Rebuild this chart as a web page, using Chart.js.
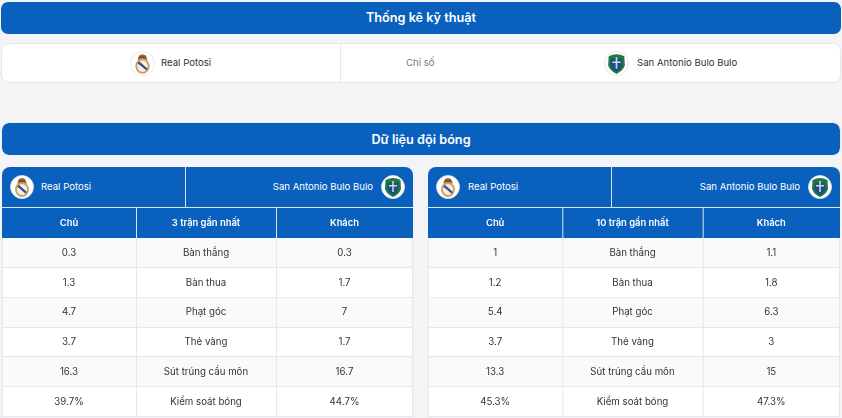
<!DOCTYPE html>
<html lang="vi">
<head>
<meta charset="utf-8">
<title>Thống kê kỹ thuật</title>
<script src="https://cdn.jsdelivr.net/npm/chart.js@4/dist/chart.umd.min.js"></script>
<style>
  html, body { margin: 0; padding: 0; }
  body { width: 842px; height: 418px; background: #f4f4f7; overflow: hidden; position: relative;
         font-family: Inter, "Noto Sans", sans-serif; color: #333; }
  .abs { position: absolute; white-space: nowrap; }
  .title { position: absolute; background: #0a60bd; color: #fff; font-size: 12.7px; font-weight: 600;
           text-align: center; box-sizing: border-box; }
  .bar { position: absolute; left: 1px; top: 43px; width: 840px; height: 40px; box-sizing: border-box;
         background: #fff; border: 1px solid #e5e7eb; border-radius: 8px; }
  .team { font-size: 9.6px; line-height: 14px; }
  .tablehead { position: absolute; top: 167px; width: 411px; height: 41px; box-sizing: border-box;
               background: #0a60bd; border-radius: 8px 8px 0 0; border-bottom: 1px solid #dbe6f3; color: #fff; }
  .tablehead .split { position: absolute; top: 0; bottom: 0; width: 1px; background: #dbe6f3; }
  .logo { position: absolute; }
  canvas { position: absolute; display: block; }
</style>
</head>
<body>
<svg width="0" height="0" style="position:absolute">
  <defs>
    <symbol id="crestReal" viewBox="0 0 24 24">
      <circle cx="12" cy="12" r="11.5" fill="#fff" stroke="#e3e3e6" stroke-width=".8"/>
      <path d="M7.5 9 Q7.500 3 12 3 Q16.500 3 16.500 9 Z" fill="#9a6f3c"/>
      <rect x="9" y="5" width="6" height="2.200" fill="#8f3f35"/>
      <ellipse cx="12" cy="14.500" rx="6" ry="6.500" fill="#f3eee0" stroke="#c6a45f" stroke-width="1.900"/>
      <path d="M7 11.500 L9 10 L17 17 L15.500 18.500 Z" fill="#3d4a9a"/>
    </symbol>
    <symbol id="crestSan" viewBox="0 0 24 24">
      <circle cx="12" cy="12" r="11.500" fill="#fff" stroke="#e3e3e6" stroke-width=".8"/>
      <path d="M4.500 5 Q12 1 19.500 5 L20 14 Q18 19.500 12 22 Q6 19.500 4 14 Z" fill="#1f7a3f"/>
      <path d="M6.500 7.500 H17.500 V14 Q16 18.500 12 20 Q8 18.500 6.500 14 Z" fill="#1d4f86"/>
      <path d="M11.200 6 H12.800 V17 H11.200 Z M8 10 H16 V11.500 H8 Z" fill="#cfd8cf"/>
    </symbol>
  </defs>
</svg>

<div class="title" style="left:1px;top:2px;width:840px;height:32px;line-height:32px;border-radius:7px">Thống kê kỹ thuật</div>

<div class="bar"></div>
<div class="abs" style="left:340px;top:44px;width:1px;height:38px;background:#e5e7eb"></div>
<svg class="logo" style="left:130px;top:51px" width="25" height="25"><use href="#crestReal"/></svg>
<div class="abs team" style="left:161px;top:56px">Real Potosi</div>
<div class="abs team" style="left:406px;top:56px;color:#777">Chỉ số</div>
<svg class="logo" style="left:604px;top:51px" width="25" height="25"><use href="#crestSan"/></svg>
<div class="abs team" style="left:637px;top:56px">San Antonio Bulo Bulo</div>

<div class="title" style="left:2px;top:123px;width:838px;height:32px;line-height:34px;border-radius:7px;outline:1px solid #e3edf8">Dữ liệu đội bóng</div>

<div class="tablehead" style="left:2px">
  <div class="split" style="left:183px"></div>
  <svg class="logo" style="left:8px;top:8px" width="24" height="24"><use href="#crestReal"/></svg>
  <div class="abs team" style="left:39px;top:13px">Real Potosi</div>
  <div class="abs team" style="right:40px;top:13px">San Antonio Bulo Bulo</div>
  <svg class="logo" style="right:8px;top:8px" width="24" height="24"><use href="#crestSan"/></svg>
</div>
<canvas id="recent3" width="411" height="209" style="left:2px;top:208px"></canvas>

<div class="tablehead" style="left:428px;width:412px">
  <div class="split" style="left:183px"></div>
  <svg class="logo" style="left:8px;top:8px" width="24" height="24"><use href="#crestReal"/></svg>
  <div class="abs team" style="left:40px;top:13px">Real Potosi</div>
  <div class="abs team" style="right:40px;top:13px">San Antonio Bulo Bulo</div>
  <svg class="logo" style="right:8px;top:8px" width="24" height="24"><use href="#crestSan"/></svg>
</div>
<canvas id="recent10" width="412" height="209" style="left:428px;top:208px"></canvas>

<script>
const metrics = ['Bàn thắng', 'Bàn thua', 'Phạt góc', 'Thẻ vàng', 'Sút trúng cầu môn', 'Kiểm soát bóng'];
const metricUnits = ['', '', '', '', '', '%'];

const home3 = [0.3, 1.3, 4.7, 3.7, 16.3, 39.7];
const away3 = [0.3, 1.7, 7, 1.7, 16.7, 44.7];
const home10 = [1, 1.2, 5.4, 3.7, 13.3, 45.3];
const away10 = [1.1, 1.8, 6.3, 3, 15, 47.3];

// column edges in px inside each table
const colEdges = [0, 134, 274, 411];
const headColor = '#0a60bd';
const lineColor = '#e5e7eb';
const font = 'Inter, "Noto Sans", sans-serif';

const cellPlugin = {
    id: 'cells',
    beforeDraw(chart) {
        const ctx = chart.ctx, x = chart.scales.x, y = chart.scales.y;
        const area = chart.chartArea;
        const rowH = y.getPixelForValue(1) - y.getPixelForValue(0);
        ctx.save();
        ctx.fillStyle = headColor;
        ctx.fillRect(0, 0, chart.width, area.top);
        metrics.forEach((m, i) => {
            ctx.fillStyle = i % 2 ? '#fff' : '#f9fafb';
            ctx.fillRect(0, y.getPixelForValue(i) - rowH / 2, chart.width, rowH);
        });
        // column and row lines
        ctx.strokeStyle = lineColor;
        ctx.lineWidth = 1;
        colEdges.forEach((e, i) => {
            const px = i === 3 ? chart.width - 0.5 : Math.max(x.getPixelForValue(e), 0) + 0.5;
            ctx.beginPath();
            ctx.moveTo(px, area.top);
            ctx.lineTo(px, area.bottom);
            ctx.stroke();
        });
        metrics.forEach((m, i) => {
            const py = Math.round(y.getPixelForValue(i) + rowH / 2) - 0.5;
            ctx.beginPath();
            ctx.moveTo(0, py);
            ctx.lineTo(chart.width, py);
            ctx.stroke();
        });
        ctx.strokeStyle = '#dbe6f3';
        [1, 2].forEach(i => {
            const px = x.getPixelForValue(colEdges[i]) + 0.5;
            ctx.beginPath();
            ctx.moveTo(px, 0);
            ctx.lineTo(px, area.top);
            ctx.stroke();
        });
        ctx.restore();
    },
    afterDatasetsDraw(chart) {
        const ctx = chart.ctx, x = chart.scales.x, y = chart.scales.y;
        ctx.save();
        ctx.font = '9.7px ' + font;
        ctx.fillStyle = '#333';
        ctx.textAlign = 'center';
        ctx.textBaseline = 'middle';
        // team values sit on the dataset points
        chart.data.datasets.forEach((ds, d) => {
            chart.getDatasetMeta(d).data.forEach((pt, i) => {
                ctx.fillText(ds.data[i].v + metricUnits[i], pt.x, pt.y);
            });
        });
        const mid = (colEdges[1] + colEdges[2]) / 2;
        metrics.forEach((m, i) => ctx.fillText(m, x.getPixelForValue(mid), y.getPixelForValue(i)));
        ctx.restore();
    }
};

function centre(i) {
    return (colEdges[i] + colEdges[i + 1]) / 2;
}

function tableChart(id, title, home, away) {
    const headers = ['Chủ', title, 'Khách'];
    return new Chart(document.getElementById(id), {
        type: 'line',
        data: {
            datasets: [
                { label: 'Chủ', data: metrics.map((m, i) => ({ x: centre(0), y: m, v: home[i] })), showLine: false, pointRadius: 0 },
                { label: 'Khách', data: metrics.map((m, i) => ({ x: centre(2), y: m, v: away[i] })), showLine: false, pointRadius: 0 }
            ]
        },
        options: {
            responsive: false,
            animation: false,
            devicePixelRatio: 1,
            layout: { padding: 0 },
            plugins: { legend: { display: false }, tooltip: { enabled: false } },
            scales: {
                x: {
                    type: 'linear',
                    position: 'top',
                    min: colEdges[0],
                    max: colEdges[3],
                    border: { display: false },
                    grid: { display: false },
                    afterBuildTicks: s => { s.ticks = [0, 1, 2].map(i => ({ value: centre(i) })); },
                    afterTickToLabelConversion: s => { s.ticks.forEach((t, i) => { t.label = headers[i]; }); },
                    afterFit: s => { s.height = 30; },
                    ticks: {
                        color: '#fff',
                        font: { family: font, size: 9.4, weight: '600' },
                        padding: 1,
                        maxRotation: 0,
                        autoSkip: false
                    }
                },
                y: {
                    type: 'category',
                    labels: metrics,
                    offset: true,
                    display: false
                }
            }
        },
        plugins: [cellPlugin]
    });
}

tableChart('recent3', '3 trận gần nhất', home3, away3);
tableChart('recent10', '10 trận gần nhất', home10, away10);
</script>
</body>
</html>
